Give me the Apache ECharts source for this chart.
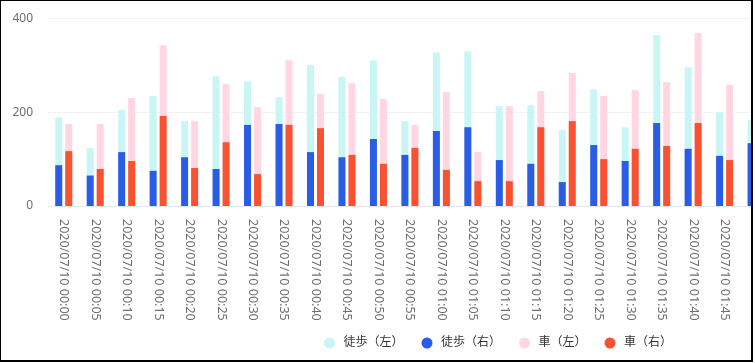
<!DOCTYPE html>
<html>
<head>
<meta charset="utf-8">
<script src="https://cdn.jsdelivr.net/npm/echarts@6/dist/echarts.min.js"></script>
<style>
html, body { margin: 0; padding: 0; background: #fff; }
#box { position: absolute; left: 0; top: 0; width: 750px; height: 359px; border-style: solid; border-color: #000; border-width: 1px 2px 2px 1px; overflow: hidden; background: #fff; }
#chart { position: absolute; left: 0; top: 0; width: 830px; height: 359px; }
</style>
</head>
<body>
<div id="box"><div id="chart"></div></div>
<script>
const categories = [
  '2020/07/10 00:00','2020/07/10 00:05','2020/07/10 00:10','2020/07/10 00:15',
  '2020/07/10 00:20','2020/07/10 00:25','2020/07/10 00:30','2020/07/10 00:35',
  '2020/07/10 00:40','2020/07/10 00:45','2020/07/10 00:50','2020/07/10 00:55',
  '2020/07/10 01:00','2020/07/10 01:05','2020/07/10 01:10','2020/07/10 01:15',
  '2020/07/10 01:20','2020/07/10 01:25','2020/07/10 01:30','2020/07/10 01:35',
  '2020/07/10 01:40','2020/07/10 01:45','2020/07/10 01:50'
];
const walkLeft  = [189,124,205,235,181,277,266,232,301,275,311,181,328,330,213,215,162,249,168,365,296,200,183];
const walkRight = [87,65,115,75,104,79,173,175,115,104,143,109,160,168,98,90,51,130,96,177,122,107,134];
const carLeft   = [175,175,230,343,181,260,211,311,239,262,228,173,243,115,213,245,284,235,247,264,369,258,null];
const carRight  = [117,79,96,192,81,136,68,173,166,109,90,124,77,53,53,168,181,100,122,128,177,98,null];
const yTicks = { min: 0, max: 400, interval: 200 };

const chart = echarts.init(document.getElementById('chart'), null, { renderer: 'canvas' });
const font = "'Noto Sans', 'Noto Sans CJK JP', sans-serif";
const xBase = {
  type: 'category',
  data: categories,
  gridIndex: 0
};
chart.setOption({
  animation: false,
  textStyle: { fontFamily: font },
  grid: { left: 47, top: 17.5, right: 830 - 47 - 23 * 31.47, bottom: 154, containLabel: false },
  legend: {
    left: 318,
    top: 331,
    icon: 'circle',
    itemWidth: 18,
    itemHeight: 11,
    itemGap: 18,
    textStyle: { fontSize: 12, color: '#333', fontFamily: font },
    data: ['徒歩（左）', '徒歩（右）', '車（左）', '車（右）']
  },
  xAxis: [
    Object.assign({}, xBase, {
      axisLine: { show: true, lineStyle: { color: '#e3e8f0' } },
      axisTick: { show: false },
      axisLabel: { rotate: -90, margin: 13, fontSize: 12.5, color: '#707070', interval: 0, fontFamily: font }
    }),
    Object.assign({}, xBase, { show: false })
  ],
  yAxis: {
    type: 'value',
    min: yTicks.min, max: yTicks.max, interval: yTicks.interval,
    axisLine: { show: false },
    axisTick: { show: false },
    axisLabel: { fontSize: 12, color: '#6e6e6e', margin: 15, fontFamily: font },
    splitLine: { lineStyle: { color: '#f2f2f2' } }
  },
  series: [
    { name: '徒歩（左）', type: 'bar', xAxisIndex: 0, data: walkLeft, barWidth: 7, barGap: '43%', itemStyle: { color: '#c8f6f5' } },
    { name: '車（左）', type: 'bar', xAxisIndex: 0, data: carLeft, barWidth: 7, barGap: '43%', itemStyle: { color: '#ffd6e1' } },
    { name: '徒歩（右）', type: 'bar', xAxisIndex: 1, data: walkRight, barWidth: 7, barGap: '43%', itemStyle: { color: '#2b5ce6' } },
    { name: '車（右）', type: 'bar', xAxisIndex: 1, data: carRight, barWidth: 7, barGap: '43%', itemStyle: { color: '#fa5230' } }
  ]
});
</script>
</body>
</html>
